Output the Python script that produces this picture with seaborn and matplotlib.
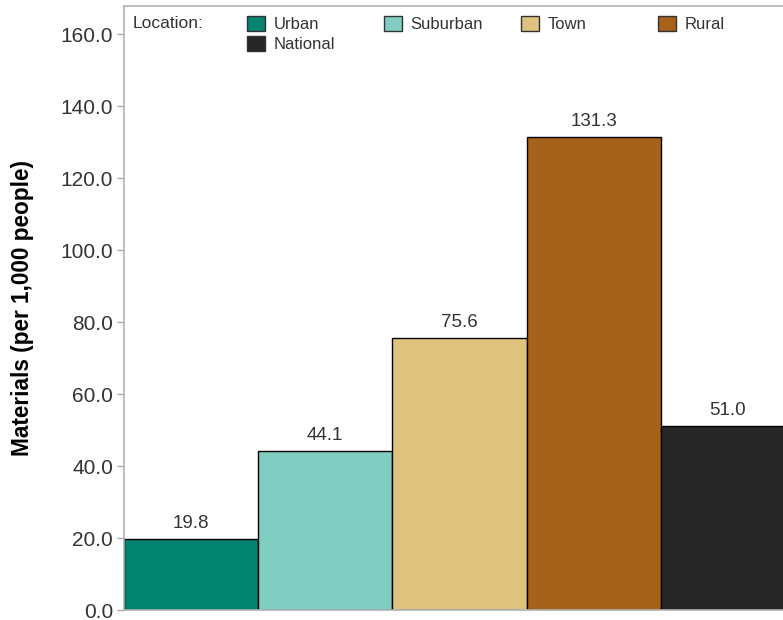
import matplotlib
matplotlib.use("Agg")
import matplotlib.pyplot as plt
import seaborn as sns
import pandas as pd
from matplotlib.patches import Patch

categories = ["Urban", "Suburban", "Town", "Rural", "National"]
values = [19.8, 44.1, 75.6, 131.3, 51.0]
colors = ["#018571", "#80cdc1", "#dfc27d", "#a6611a", "#262626"]
yticks = [0, 20, 40, 60, 80, 100, 120, 140, 160]

sns.set_theme(style="white")
plt.rcParams['font.family'] = ['Liberation Sans', 'DejaVu Sans']

df = pd.DataFrame({"Location": categories, "Value": values})

fig = plt.figure(figsize=(7.83, 6.2), dpi=100)
ax = fig.add_axes([124/783, 1-610/620, (795-124)/783, (610-6)/620])

sns.barplot(data=df, x="Location", y="Value", hue="Location", order=categories,
            hue_order=categories, palette=colors, dodge=False, width=1.0,
            edgecolor="black", linewidth=1.0, saturation=1, legend=False, ax=ax)

for i, v in enumerate(values):
    ax.text(i, v + 2.0, f"{v:.1f}", ha="center", va="bottom", fontsize=13.5, color="#333333")

ax.set_xlim(-0.5, 4.5)
ax.set_ylim(0, (610-6)/3.6)
ax.set_yticks(yticks)
ax.set_yticklabels([f"{t:.1f}" for t in yticks], fontsize=15, color="#333333")
ax.set_xticks([])
ax.set_xlabel("")
ax.set_ylabel("Materials (per 1,000 people)", fontsize=16.3, fontweight="bold", color="black", labelpad=19)
ax.tick_params(axis="y", left=True, length=5, width=1, color="#aaaaaa", pad=3)
for s in ["left", "top", "bottom"]:
    ax.spines[s].set_color("#b0b4b8")
    ax.spines[s].set_linewidth(1.2)
ax.spines["right"].set_visible(False)

fig.text(133/783, 1-24/620, "Location:", fontsize=12.5, color="#333333", va="center", ha="left")

# legend columns: (x position in px, list of category indices)
columns = [(247, [0, 4]), (384, [1]), (521, [2]), (658, [3])]
for x, idxs in columns:
    hs = [Patch(facecolor=colors[i], edgecolor="#333333", linewidth=1) for i in idxs]
    labs = [categories[i] for i in idxs]
    fig.legend(hs, labs, loc="upper left", bbox_to_anchor=(x/783, 1-16/620),
               frameon=False, fontsize=12, handlelength=1.1, handleheight=1.05,
               handletextpad=0.5, labelspacing=0.2, borderpad=0.0,
               borderaxespad=0.0, labelcolor="#333333")

fig.savefig("out.png", dpi=100)
